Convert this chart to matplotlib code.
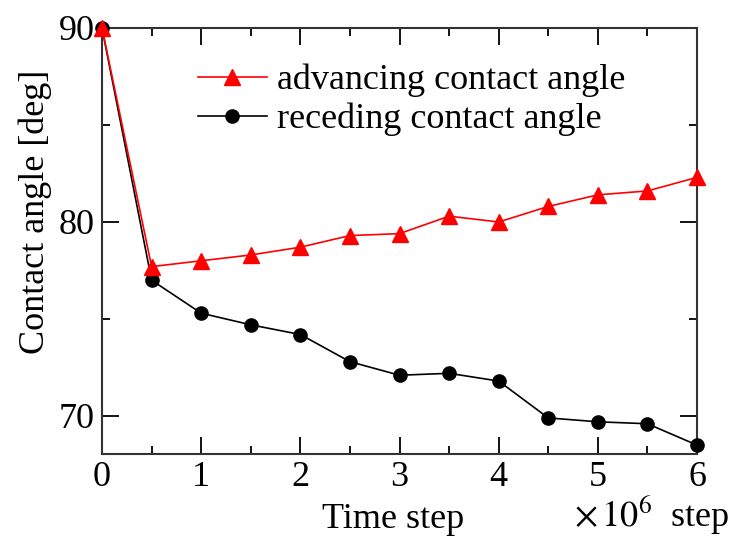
import matplotlib.pyplot as plt
from matplotlib.ticker import MultipleLocator

plt.rcParams['font.family'] = ['Liberation Serif', 'DejaVu Serif']
plt.rcParams['mathtext.fontset'] = 'stix'

steps = [0, 0.5, 1, 1.5, 2, 2.5, 3, 3.5, 4, 4.5, 5, 5.5, 6]
advancing = [90.0, 77.7, 78.0, 78.3, 78.7, 79.3, 79.4, 80.3, 80.0, 80.8, 81.4, 81.6, 82.3]
receding = [90.0, 77.0, 75.3, 74.7, 74.2, 72.8, 72.1, 72.2, 71.8, 69.9, 69.7, 69.6, 68.5]

fig = plt.figure(figsize=(7.31, 5.38), dpi=100)
ax = fig.add_axes([102 / 731, 1 - 454 / 538, 595 / 731, 426 / 538])

ax.plot(steps, receding, color='black', lw=1.2, marker='o', ms=9.5,
        label='receding contact angle', clip_on=False, zorder=3)
ax.plot(steps, advancing, color='red', lw=1.2, marker='^', ms=11,
        label='advancing contact angle', clip_on=False, zorder=4)

ax.set_xlim(0, 6)
ax.set_ylim(68.04, 90)
ax.xaxis.set_major_locator(MultipleLocator(1))
ax.xaxis.set_minor_locator(MultipleLocator(0.5))
ax.yaxis.set_major_locator(MultipleLocator(10))
ax.yaxis.set_minor_locator(MultipleLocator(5))
ax.tick_params(which='both', direction='in', top=True, right=True,
               labelsize=26, width=1.3, pad=5)
ax.tick_params(which='major', length=12)
ax.tick_params(which='minor', length=6)
for s in ax.spines.values():
    s.set_linewidth(1.5)
    s.set_color('#333333')

fig.text(35 / 731, 1 - 212 / 538, 'Contact angle [deg]', fontsize=26,
         rotation=90, ha='center', va='center')
fig.text(393 / 731, 1 - 520 / 538, 'Time step', fontsize=26, ha='center', va='center')
fig.text(574 / 731, 1 - 515 / 538, r'$\times\,10^{6}$  step', fontsize=26, ha='left', va='center')

handles, labels = ax.get_legend_handles_labels()
ax.legend(handles[::-1], labels[::-1], loc='upper left', bbox_to_anchor=(0.137, 0.95),
          frameon=False, fontsize=26, handlelength=1.9, handletextpad=0.3,
          labelspacing=0.15, borderaxespad=0)

fig.savefig('out.png', dpi=100)
